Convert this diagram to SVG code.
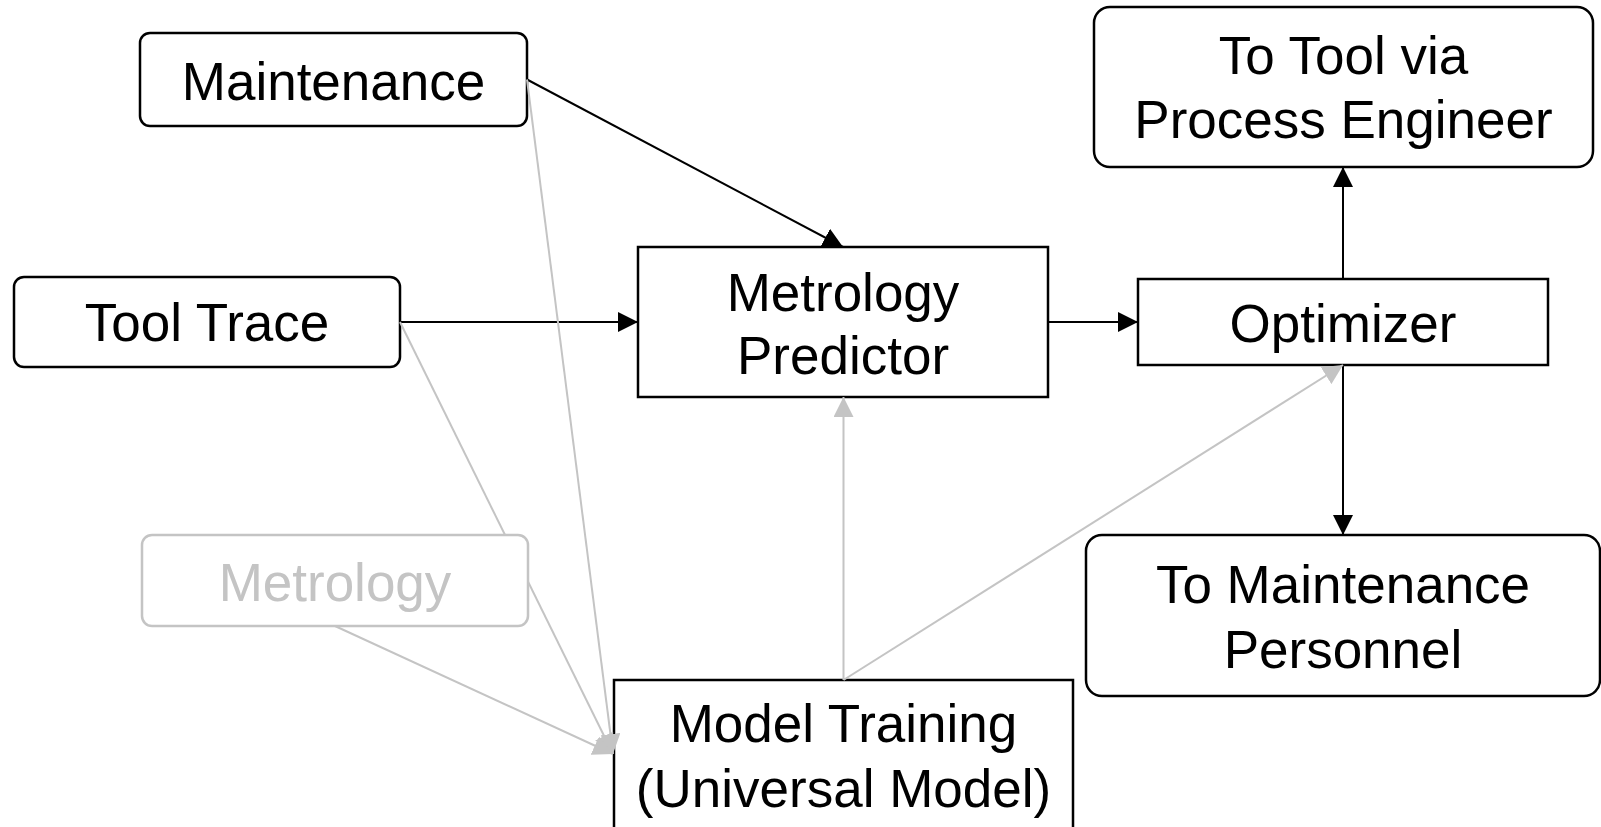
<svg xmlns="http://www.w3.org/2000/svg" width="1601" height="827" viewBox="0 0 1601 827">
<defs>
<style>
.box{fill:#fff;stroke:#000;stroke-width:2.5}
.gbox{fill:#fff;stroke:#c4c4c4;stroke-width:2.5}
.t{font-family:"Liberation Sans",Arial,sans-serif;font-size:53px;text-anchor:middle;fill:#000}
.gt{fill:#c4c4c4}
.k{stroke:#000;stroke-width:2;fill:none}
.g{stroke:#c4c4c4;stroke-width:2;fill:none}
</style>
<marker id="ak" markerUnits="userSpaceOnUse" markerWidth="20" markerHeight="20" refX="20" refY="10" orient="auto"><path d="M0,0 L20,10 L0,20 Z" fill="#000"/></marker>
<marker id="ag" markerUnits="userSpaceOnUse" markerWidth="20" markerHeight="20" refX="20" refY="10" orient="auto"><path d="M0,0 L20,10 L0,20 Z" fill="#c4c4c4"/></marker>
</defs>
<rect width="1601" height="827" fill="#fff"/>
<g id="maintenance"><rect class="box" x="140" y="33" width="387" height="93" rx="10"/><text class="t" x="333.5" y="100">Maintenance</text></g>
<g id="tool-trace"><rect class="box" x="14" y="277" width="386" height="90" rx="10"/><text class="t" x="207" y="341">Tool Trace</text></g>
<g id="metrology-predictor"><rect class="box" x="638" y="247" width="410" height="150"/><text class="t" x="843" y="311">Metrology</text><text class="t" x="843" y="374">Predictor</text></g>
<g id="optimizer"><rect class="box" x="1138" y="279" width="410" height="86"/><text class="t" x="1343" y="342">Optimizer</text></g>
<g id="to-tool"><rect class="box" x="1094" y="7" width="499" height="160" rx="16"/><text class="t" x="1343.5" y="74">To Tool via</text><text class="t" x="1343.5" y="138">Process Engineer</text></g>
<g id="to-maintenance"><rect class="box" x="1086" y="535" width="514" height="161" rx="16"/><text class="t" x="1343" y="603">To Maintenance</text><text class="t" x="1343" y="668">Personnel</text></g>
<g id="model-training"><rect class="box" x="614" y="680" width="459" height="160"/><text class="t" x="843.5" y="742">Model Training</text><text class="t" x="843.5" y="807">(Universal Model)</text></g>
<g id="connectors">
<line class="k" x1="527" y1="79.5" x2="843" y2="247" marker-end="url(#ak)"/>
<line class="k" x1="400" y1="322" x2="638" y2="322" marker-end="url(#ak)"/>
<line class="k" x1="1048" y1="322" x2="1138" y2="322" marker-end="url(#ak)"/>
<line class="k" x1="1343" y1="279" x2="1343" y2="167" marker-end="url(#ak)"/>
<line class="k" x1="1343" y1="365" x2="1343" y2="535" marker-end="url(#ak)"/>
<line class="g" x1="843.5" y1="680" x2="843.5" y2="397" marker-end="url(#ag)"/>
<line class="g" x1="843.5" y1="680" x2="1343" y2="365" marker-end="url(#ag)"/>
<line class="g" x1="527" y1="79.5" x2="613" y2="754" marker-end="url(#ag)"/>
<line class="g" x1="400" y1="322" x2="613" y2="754" marker-end="url(#ag)"/>
<line class="g" x1="335" y1="626" x2="613" y2="754" marker-end="url(#ag)"/>
</g>
<g id="metrology"><rect class="gbox" x="142" y="535" width="386" height="91" rx="10"/><text class="t gt" x="335" y="601">Metrology</text></g>
</svg>
